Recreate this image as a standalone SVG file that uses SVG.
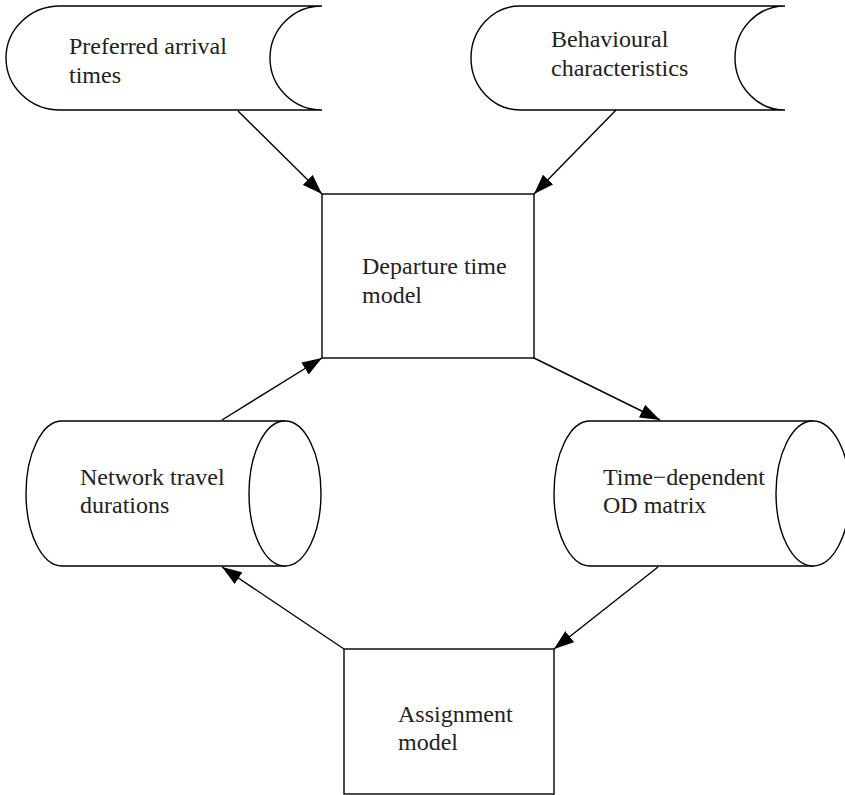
<svg xmlns="http://www.w3.org/2000/svg" width="845" height="795" viewBox="0 0 845 795">
  <defs>
    <marker id="arrow" markerUnits="userSpaceOnUse" markerWidth="20" markerHeight="14" refX="20" refY="7" orient="auto">
      <path d="M0,0 L20,7 L0,14 Z" fill="#000"/>
    </marker>
  </defs>
  <style>
    .shape { fill: #fff; stroke: #000; stroke-width: 1.4; }
    .edge { fill: none; stroke: #000; stroke-width: 1.4; marker-end: url(#arrow); }
    .label { font-family: "Liberation Serif", "Times New Roman", serif; font-size: 24px; fill: #222; }
  </style>
  <rect width="845" height="795" fill="#fff"/>

  <g id="connectors">
    <line class="edge" x1="238" y1="111" x2="322" y2="194"/>
    <line class="edge" x1="616" y1="110" x2="534" y2="194"/>
    <line class="edge" x1="222" y1="420" x2="322" y2="358"/>
    <line class="edge" x1="534" y1="358" x2="660" y2="420"/>
    <line class="edge" x1="658" y1="567" x2="554" y2="649"/>
    <line class="edge" x1="344" y1="649" x2="222" y2="567"/>
  </g>

  <g id="preferred-arrival-times">
    <path class="shape" d="M60,6 L322,6 A52,52 0 0 0 322,110 L60,110 A54,52 0 0 1 60,6 Z"/>
    <text class="label" x="69" y="54">Preferred arrival</text>
    <text class="label" x="69" y="83">times</text>
  </g>

  <g id="behavioural-characteristics">
    <path class="shape" d="M520,6 L785,6 A50,52 0 0 0 785,110 L520,110 A49,52 0 0 1 520,6 Z"/>
    <text class="label" x="551" y="47">Behavioural</text>
    <text class="label" x="551" y="76">characteristics</text>
  </g>

  <g id="departure-time-model">
    <rect class="shape" x="322" y="194" width="212" height="164"/>
    <text class="label" x="362" y="274">Departure time</text>
    <text class="label" x="362" y="303">model</text>
  </g>

  <g id="network-travel-durations">
    <path class="shape" d="M62,421 L285,421 L285,566 L62,566 A36,72.5 0 0 1 62,421 Z"/>
    <ellipse class="shape" cx="285" cy="493.5" rx="36" ry="72.5"/>
    <text class="label" x="80" y="485">Network travel</text>
    <text class="label" x="80" y="513">durations</text>
  </g>

  <g id="time-dependent-od-matrix">
    <path class="shape" d="M590,421 L813,421 L813,566 L590,566 A36,72.5 0 0 1 590,421 Z"/>
    <ellipse class="shape" cx="813" cy="493.5" rx="37" ry="72.5"/>
    <text class="label" x="603" y="485">Time−dependent</text>
    <text class="label" x="603" y="513">OD matrix</text>
  </g>

  <g id="assignment-model">
    <rect class="shape" x="344" y="649" width="210" height="145"/>
    <text class="label" x="398" y="722">Assignment</text>
    <text class="label" x="398" y="750">model</text>
  </g>
</svg>
